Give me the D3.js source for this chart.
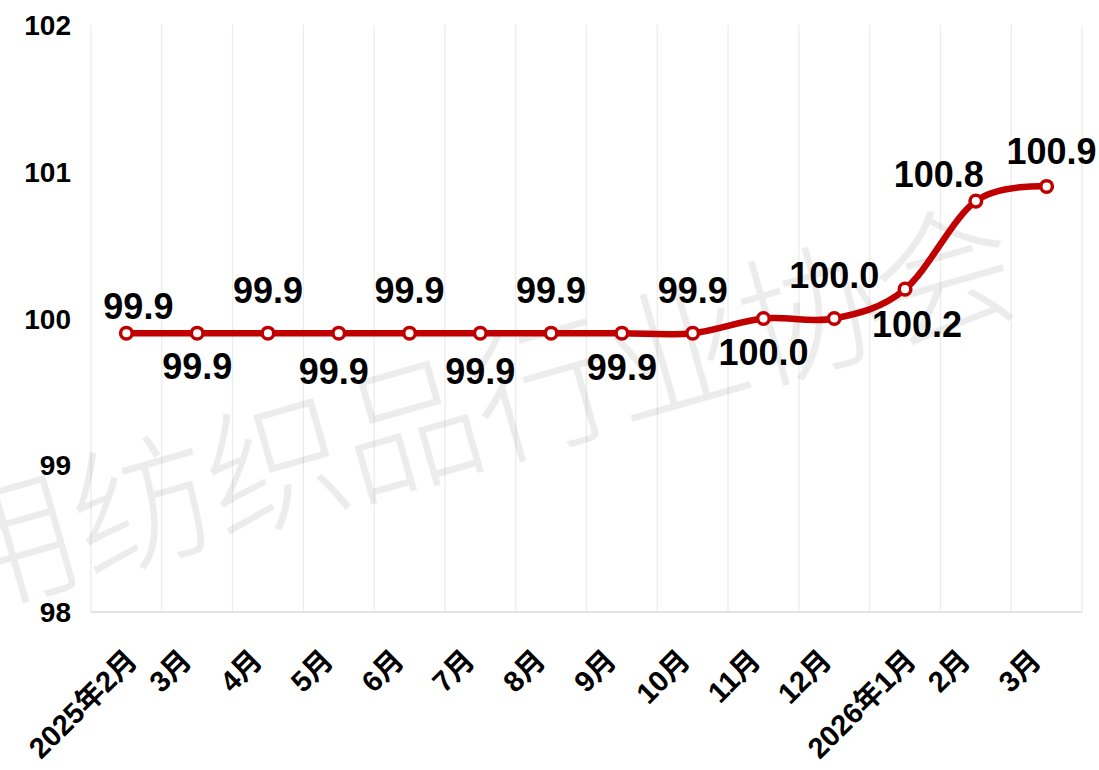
<!DOCTYPE html>
<html><head><meta charset="utf-8">
<script src="https://cdn.jsdelivr.net/npm/d3@7"></script>
<style>
html,body{margin:0;padding:0;background:#fff;}
svg{display:block;}
</style></head>
<body>
<svg id="chart" width="1099" height="770"></svg>
<script>
const categories = ["2025年2月","3月","4月","5月","6月","7月","8月","9月","10月","11月","12月","2026年1月","2月","3月"];
const values = [99.9,99.9,99.9,99.9,99.9,99.9,99.9,99.9,99.9,100.0,100.0,100.2,100.8,100.9];
const yTicks = [98,99,100,101,102];
// label placement relative to each point: [dx, dy of baseline]
const labelPlacement = [[12,-14],[0,46],[0,-30],[-5,51],[0,-30],[0,51],[0,-30],[0,47],[0,-30],[0,46],[0,-31],[12,48],[-37,-14],[5,-22]];

const svg = d3.select("#chart");
const m = {left:91, right:1082, top:25, bottom:612};

const x = d3.scaleBand().domain(d3.range(categories.length)).range([m.left, m.right]).padding(0);
const y = d3.scaleLinear().domain([98,102]).range([m.bottom, m.top]);
const cx = i => x(i) + x.bandwidth()/2;

// vertical gridlines at category boundaries
const bounds = d3.range(categories.length+1).map(i => i < categories.length ? x(i) : m.right);
svg.append("g").selectAll("line").data(bounds).join("line")
  .attr("x1", d=>d).attr("x2", d=>d).attr("y1", m.top).attr("y2", m.bottom)
  .attr("stroke", "#ececec").attr("stroke-width", 1.3);

// watermark
svg.append("text")
  .attr("transform", "translate(-45,613) rotate(-16)")
  .attr("font-family", "'Noto Sans CJK SC'")
  .attr("font-weight", 200)
  .attr("font-size", 142)
  .attr("letter-spacing", -3)
  .attr("fill", "#000").attr("fill-opacity", 0.075)
  .text("用纺织品行业协会");

// bottom axis line
svg.append("line").attr("x1", m.left).attr("x2", m.right).attr("y1", m.bottom).attr("y2", m.bottom)
  .attr("stroke", "#d9d9d9").attr("stroke-width", 1.5);

// y axis labels
svg.append("g").selectAll("text").data(yTicks).join("text")
  .attr("x", 71).attr("y", d => y(d)).attr("dy", "0.36em")
  .attr("text-anchor", "end")
  .attr("font-family", "'Liberation Sans', Arial, sans-serif")
  .attr("font-weight", "bold").attr("font-size", 28).attr("fill", "#000")
  .text(d => d);

// x axis labels
const xl = svg.append("g").selectAll("text").data(categories).join("text")
  .attr("text-anchor", "end").attr("dy", "0.35em")
  .attr("font-family", "'Liberation Sans', Arial, 'Noto Sans CJK SC', sans-serif")
  .attr("font-weight", "bold").attr("font-size", 29).attr("fill", "#000")
  .text(d => d);
xl.attr("transform", function(d,i){
  const L = this.getComputedTextLength();
  return `translate(${cx(i) + 0.177*L - 19},${m.bottom+43}) rotate(-45)`;
});

// line
const line = d3.line().x((d,i)=>cx(i)).y(d=>y(d)).curve(d3.curveCardinal.tension(0));
svg.append("path").datum(values).attr("d", line)
  .attr("fill", "none").attr("stroke", "#c00000").attr("stroke-width", 6.5)
  .attr("stroke-linejoin","round").attr("stroke-linecap","round");

// markers
svg.append("g").selectAll("circle").data(values).join("circle")
  .attr("cx", (d,i)=>cx(i)).attr("cy", d=>y(d)).attr("r", 5.8)
  .attr("fill", "#fff").attr("stroke", "#c00000").attr("stroke-width", 3.5);

// data labels
svg.append("g").selectAll("text").data(values).join("text")
  .attr("x", (d,i)=>cx(i)+labelPlacement[i][0])
  .attr("y", (d,i)=>y(d)+labelPlacement[i][1])
  .attr("text-anchor", "middle")
  .attr("font-family", "'Liberation Sans', Arial, sans-serif")
  .attr("font-weight", "bold").attr("font-size", 36).attr("fill", "#000")
  .text(d => d.toFixed(1));
</script>
</body></html>
